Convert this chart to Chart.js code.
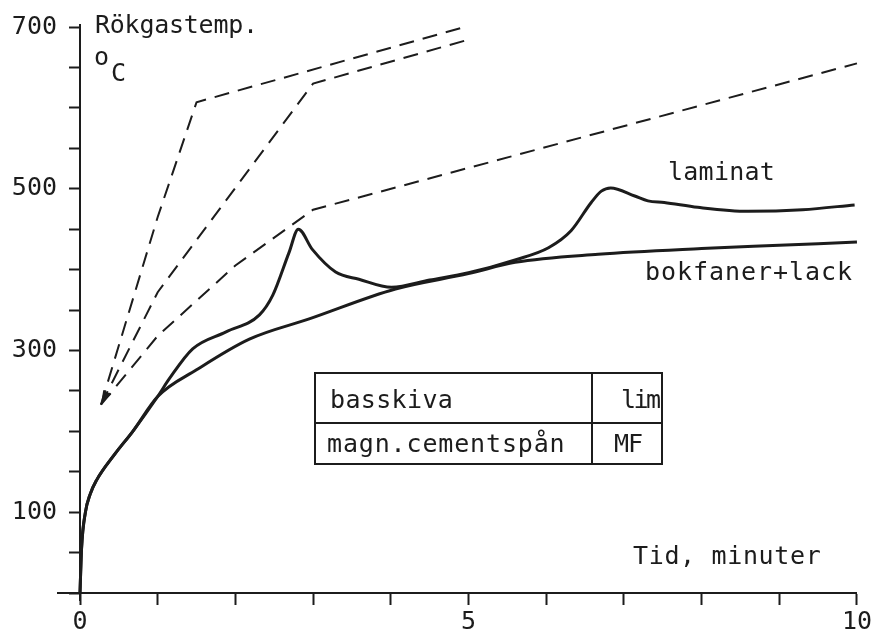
<!DOCTYPE html>
<html>
<head>
<meta charset="utf-8">
<script src="https://cdn.jsdelivr.net/npm/chart.js@4.4.1/dist/chart.umd.min.js"></script>
<style>
  html, body { margin: 0; padding: 0; background: #fff; }
  #wrap { width: 874px; height: 634px; position: relative; }
</style>
</head>
<body>
<div id="wrap"><canvas id="chart"></canvas></div>
<script>
// tick labels shown on the axes
const xTickLabels = [0, 5, 10];
const yTickLabels = [100, 300, 500, 700];

// laminat (upper solid curve)
const laminatMin  = [0, 0.02, 0.07, 0.13, 0.21, 0.45, 0.68, 1.0, 1.15, 1.45, 1.88, 2.31, 2.48, 2.69, 2.81, 2.99, 3.29, 3.59, 4.01, 4.5, 5.0, 5.6, 6.03, 6.32, 6.58, 6.71, 6.83, 7.14, 7.31, 7.52, 7.95, 8.6, 9.3, 9.97];
const laminatTemp = [0, 55, 100, 122, 139, 172, 200, 243, 265, 302, 323, 344, 368, 421, 450, 425, 397, 388, 378, 387, 396, 412, 427, 448, 483, 497, 501, 491, 485, 483, 477, 472, 474, 480];

// bokfaner+lack (lower solid curve)
const bokfanerMin  = [0, 0.02, 0.07, 0.13, 0.21, 0.45, 0.68, 1.0, 1.5, 2.18, 2.95, 4.06, 5.0, 5.6, 6.67, 8, 9, 10];
const bokfanerTemp = [0, 55, 100, 122, 139, 172, 200, 243, 276, 314, 339, 376, 395, 409, 419, 426, 430, 434];

// dashed lines
const dash1Min  = [0.27, 1.0, 1.5, 4.95];
const dash1Temp = [233, 465, 607, 700];
const dash2Min  = [0.27, 1.0, 3.0, 4.95];
const dash2Temp = [233, 372, 630, 683];
const dash3Min  = [0.27, 1.0, 2.0, 3.0, 10];
const dash3Temp = [233, 318, 405, 474, 655];

const INK = '#1c1c1c';
const FONT = '"DejaVu Sans Mono", monospace';

function pts(xs, ys) {
    return xs.map((x, i) => ({ x: x, y: ys[i] }));
}

function solid(xs, ys) {
    return {
        data: pts(xs, ys), showLine: true, borderColor: INK, borderWidth: 3,
        pointRadius: 0, cubicInterpolationMode: 'monotone', clip: false
    };
}

function dashed(xs, ys) {
    return {
        data: pts(xs, ys), showLine: true, borderColor: INK, borderWidth: 2,
        borderDash: [15, 9], pointRadius: 0, tension: 0, clip: false
    };
}

// extra drawing: axis extensions, arrowhead, labels, table
const extras = {
    id: 'extras',
    afterDraw(chart) {
        const c = chart.ctx;
        const xs = chart.scales.x, ys = chart.scales.y;
        const a = chart.chartArea;
        c.save();
        c.strokeStyle = INK;
        c.fillStyle = INK;
        c.lineWidth = 2;

        // axis extensions
        c.beginPath();
        c.moveTo(a.left - 23, a.bottom);
        c.lineTo(a.left, a.bottom);
        c.moveTo(a.left, a.top - 3);
        c.lineTo(a.left, a.top);
        c.moveTo(a.left, a.bottom);
        c.lineTo(a.left, a.bottom + 8);
        c.stroke();

        // arrowhead at the start of the dashed lines
        const tipX = xs.getPixelForValue(dash2Min[0]), tipY = ys.getPixelForValue(dash2Temp[0]);
        const bx = xs.getPixelForValue(dash2Min[1]), by = ys.getPixelForValue(dash2Temp[1]);
        const ang = Math.atan2(by - tipY, bx - tipX);
        const len = 14, half = 4.5;
        c.beginPath();
        c.moveTo(tipX, tipY);
        c.lineTo(tipX + len * Math.cos(ang) - half * Math.sin(ang), tipY + len * Math.sin(ang) + half * Math.cos(ang));
        c.lineTo(tipX + len * Math.cos(ang) + half * Math.sin(ang), tipY + len * Math.sin(ang) - half * Math.cos(ang));
        c.closePath();
        c.fill();

        // text labels
        c.font = '25px ' + FONT;
        c.textBaseline = 'middle';
        c.textAlign = 'left';
        const txt = (s, x, y, sp) => {
            c.letterSpacing = sp + 'px';
            c.fillText(s, x, y);
        };
        txt('Rökgastemp.', 95, 26, -0.25);
        txt('o', 94, 58, 0);
        txt('C', 111, 74, 0);
        txt('Tid, minuter', 633, 557, 0.65);
        txt('laminat', 668, 173, 0.25);
        txt('bokfaner+lack', 645, 273, 0.95);

        // table
        const tl = 315, tr = 662, tt = 373, tm = 423, tb = 464, tv = 592;
        c.lineWidth = 2;
        c.strokeRect(tl, tt, tr - tl, tb - tt);
        c.beginPath();
        c.moveTo(tl, tm); c.lineTo(tr, tm);
        c.moveTo(tv, tt); c.lineTo(tv, tb);
        c.stroke();
        txt('basskiva', 330, 401, 0.35);
        txt('lim', 621, 401, -2.5);
        txt('magn.cementspån', 327, 445, 0.85);
        txt('MF', 614, 445, -1);
        c.restore();
    }
};

const ctx = document.getElementById('chart').getContext('2d');
new Chart(ctx, {
    type: 'scatter',
    data: {
        datasets: [
            dashed(dash1Min, dash1Temp),
            dashed(dash2Min, dash2Temp),
            dashed(dash3Min, dash3Temp),
            solid(bokfanerMin, bokfanerTemp),
            solid(laminatMin, laminatTemp)
        ]
    },
    options: {
        responsive: true,
        maintainAspectRatio: false,
        animation: false,
        layout: { padding: { top: 23, right: 14, left: 0, bottom: 0 } },
        plugins: { legend: { display: false }, tooltip: { enabled: false } },
        scales: {
            x: {
                type: 'linear', min: 0, max: 10,
                ticks: {
                    stepSize: 1, autoSkip: false, maxRotation: 0, padding: 2,
                    color: INK, font: { family: FONT, size: 25 },
                    callback: v => xTickLabels.includes(v) ? String(v) : ''
                },
                grid: { drawOnChartArea: false, tickLength: 12, tickColor: INK, tickWidth: 2 },
                border: { color: INK, width: 2 },
                afterFit: s => { s.height = 41; }
            },
            y: {
                type: 'linear', min: 0, max: 700,
                ticks: {
                    stepSize: 50, autoSkip: false, padding: 12,
                    color: INK, font: { family: FONT, size: 25 },
                    callback: v => yTickLabels.includes(v) ? String(v) : ''
                },
                grid: { drawOnChartArea: false, tickLength: 11, tickColor: INK, tickWidth: 2 },
                border: { color: INK, width: 2 },
                afterFit: s => { s.width = 80; }
            }
        }
    },
    plugins: [extras]
});
</script>
</body>
</html>
